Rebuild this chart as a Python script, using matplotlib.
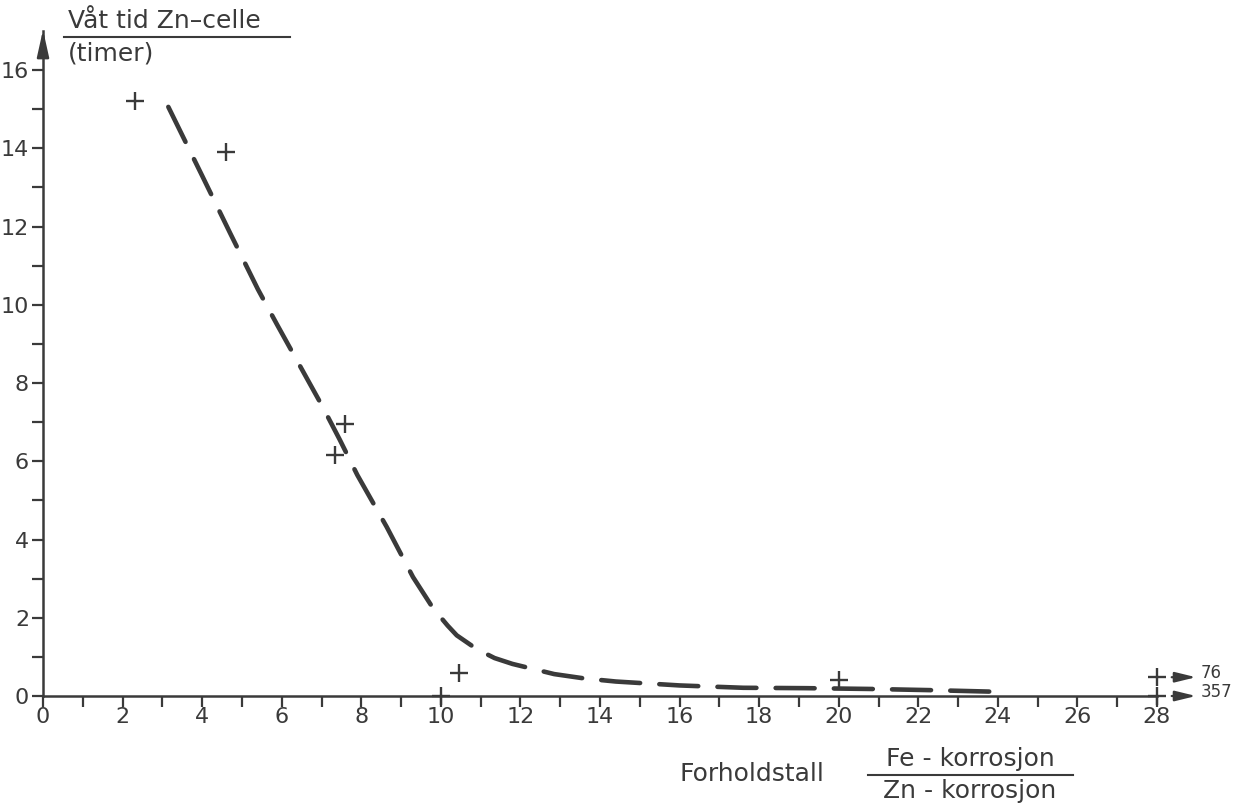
import matplotlib.pyplot as plt
import numpy as np

# measured points (ratio Fe/Zn corrosion, wet time in hours)
ratio = [2.3, 4.6, 7.6, 7.35, 10.45, 10.0, 20.0, 28.0, 28.0]
wet_time = [15.2, 13.9, 6.95, 6.15, 0.6, 0.0, 0.4, 0.48, 0.0]

# off-scale points at the right edge
offscale_y = [0.48, 0.0]
offscale_lbl = ["76", "357"]

# hand drawn dashed trend line
curve_x = [3.15, 4.0, 4.7, 5.4, 5.88, 7.03, 7.46, 7.9, 8.64, 9.3, 9.8, 10.17, 10.4,
           10.9, 11.35, 11.8, 12.85, 13.6, 14.4, 16.0, 17.6, 19.2, 20.8, 22.3, 23.9]
curve_y = [15.06, 13.3, 11.84, 10.4, 9.5, 7.39, 6.55, 5.65, 4.32, 3.04, 2.25, 1.8, 1.55,
           1.2, 0.97, 0.82, 0.56, 0.45, 0.37, 0.27, 0.21, 0.2, 0.18, 0.15, 0.11]

ink = "#3a3a3a"
plt.rcParams['font.family'] = ['DejaVu Sans']

fig = plt.figure(figsize=(12.45, 8.09), dpi=100)
ax = fig.add_axes([43/1245, 113/809, 1114/1245, 665/809])

ax.plot(curve_x, curve_y, color=ink, lw=3.3, dashes=(8.5, 4.2),
        dash_capstyle='round', solid_capstyle='round', solid_joinstyle='round')
ax.plot(ratio, wet_time, '+', color=ink, ms=13, mew=1.7, clip_on=False, zorder=5)

# arrows to the off-scale values
for yv, lbl in zip(offscale_y, offscale_lbl):
    ax.annotate("", xy=(29.05, yv), xytext=(28.3, yv),
                arrowprops=dict(arrowstyle='-|>,head_length=0.9,head_width=0.22',
                                color=ink, lw=1.6, mutation_scale=14),
                annotation_clip=False)
    ax.text(29.1, yv + 0.1, lbl, fontsize=12, color=ink, va='center', ha='left',
            clip_on=False)

ax.set_xlim(0, 28)
ax.set_ylim(0, 17)
ax.spines['top'].set_visible(False)
ax.spines['right'].set_visible(False)
ax.spines['left'].set_color(ink)
ax.spines['bottom'].set_color(ink)
ax.spines['left'].set_linewidth(1.8)
ax.spines['bottom'].set_linewidth(1.8)
ax.spines['bottom'].set_bounds(0, 28)

# arrow head at the top of the y axis
ax.annotate("", xy=(0, 17.1), xytext=(0, 16.3),
            arrowprops=dict(arrowstyle='-|>,head_length=0.9,head_width=0.2',
                            color=ink, lw=1.8, mutation_scale=18),
            annotation_clip=False)

ax.set_xticks(np.arange(0, 29, 2))
ax.set_xticks(np.arange(1, 28, 2), minor=True)
ax.set_yticks(np.arange(0, 17, 2))
ax.set_yticks(np.arange(1, 16, 2), minor=True)
ax.tick_params(which='both', direction='out', length=8, width=1.6, color=ink,
               labelsize=16, labelcolor=ink)
ax.tick_params(axis='x', pad=0)
ax.tick_params(axis='y', pad=2)

# y axis title, underlined
fig.text(68/1245, 1 - 21/809, "Våt tid Zn–celle", fontsize=18, color=ink,
         ha='left', va='center')
fig.add_artist(plt.Line2D([64/1245, 290/1245], [1 - 37/809, 1 - 37/809],
                          color=ink, lw=1.5))
fig.text(68/1245, 1 - 53/809, "(timer)", fontsize=18, color=ink,
         ha='left', va='center')

# x axis title with fraction
fig.text(680/1245, 1 - 774/809, "Forholdstall", fontsize=18, color=ink,
         ha='left', va='center')
fig.text(970/1245, 1 - 759/809, "Fe - korrosjon", fontsize=18, color=ink,
         ha='center', va='center')
fig.add_artist(plt.Line2D([868/1245, 1073/1245], [1 - 775/809, 1 - 775/809],
                          color=ink, lw=1.5))
fig.text(970/1245, 1 - 791/809, "Zn - korrosjon", fontsize=18, color=ink,
         ha='center', va='center')

fig.savefig("out.png", dpi=100)
